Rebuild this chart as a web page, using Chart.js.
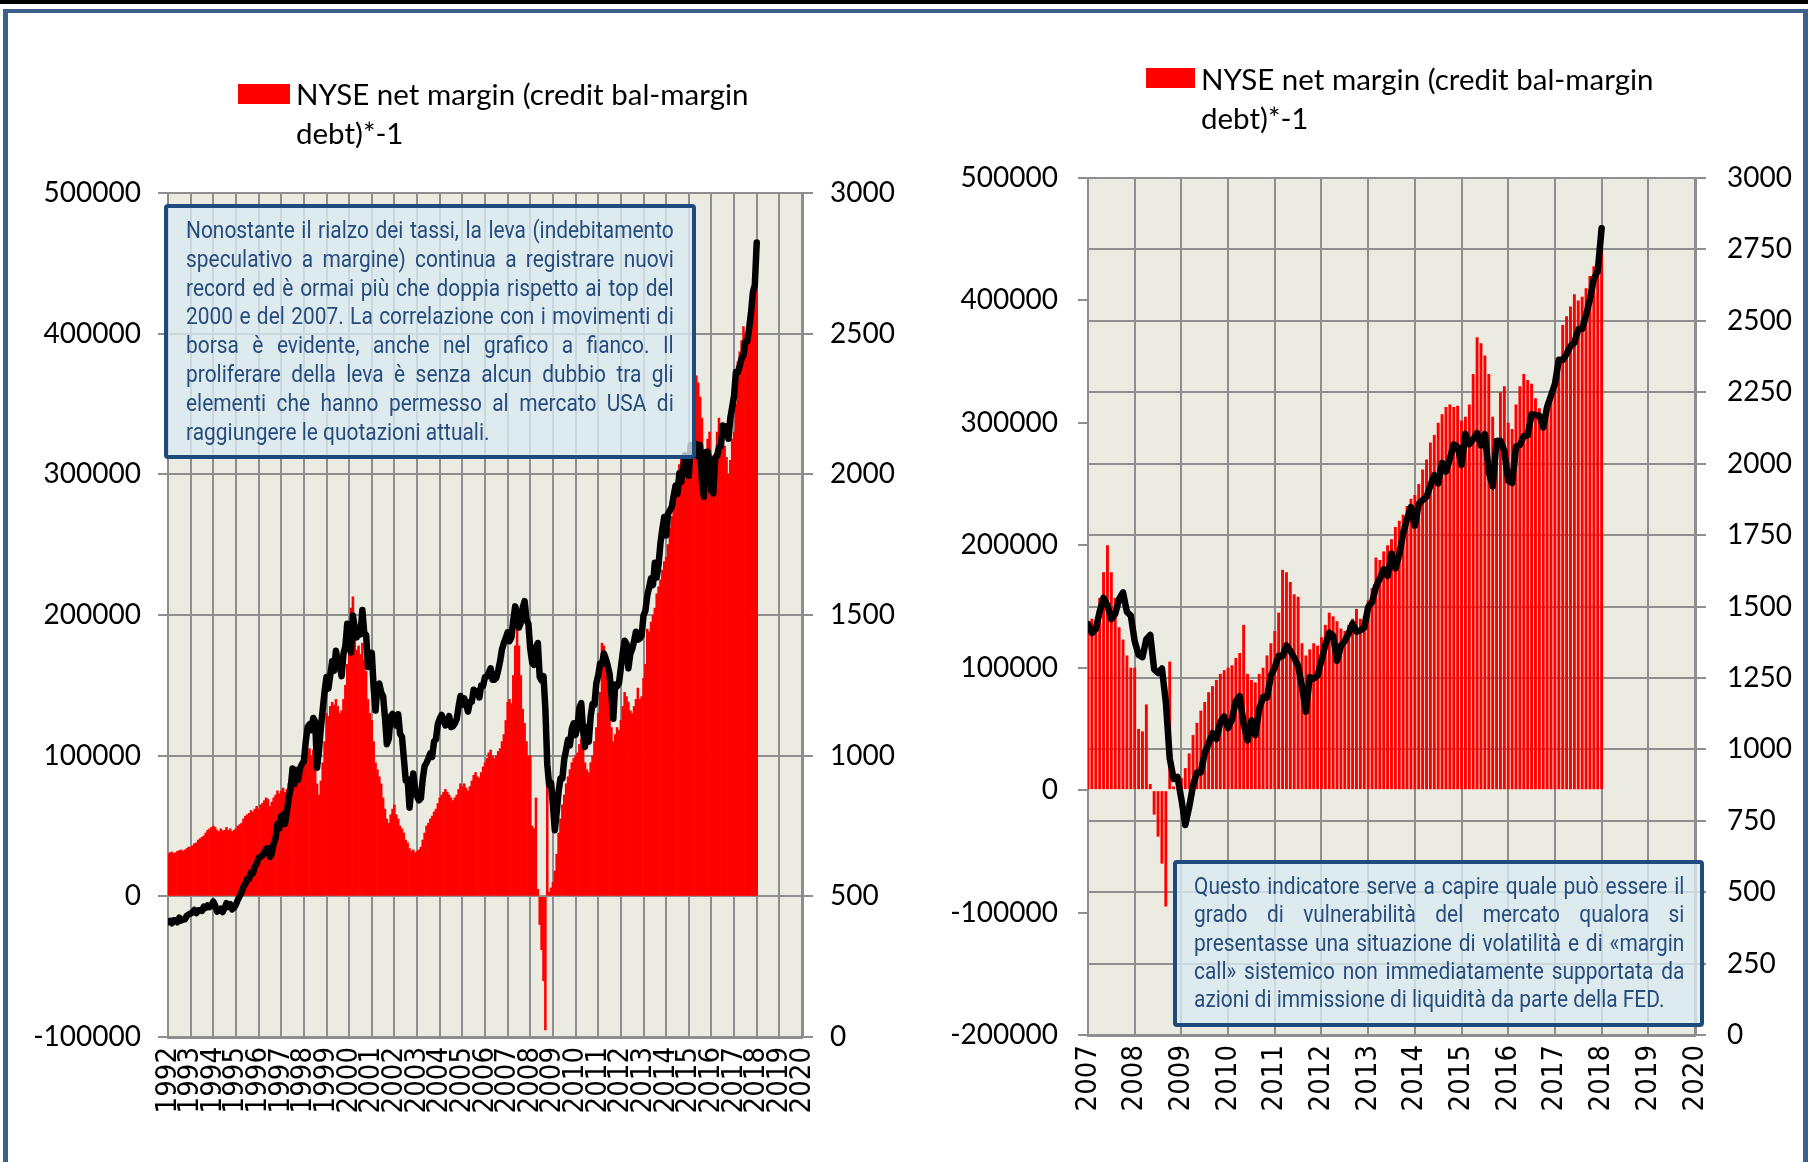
<!DOCTYPE html>
<html>
<head>
<meta charset="utf-8">
<script src="https://cdn.jsdelivr.net/npm/chart.js@4.4.1/dist/chart.umd.min.js"></script>
<style>
  html, body { margin: 0; padding: 0; background: #fff; }
  #page { position: relative; width: 1808px; height: 1162px; overflow: hidden; background: #fff; }
  .topbar { position: absolute; left: 0; top: 0; width: 1808px; height: 4px; background: #000; }
  .frame { position: absolute; left: 3px; top: 9px; width: 1805px; height: 1160px; box-sizing: border-box;
           border: 5px solid #3d5f8d; border-top-width: 4px; border-bottom: none; }
  .box { position: absolute; top: 0; }
  .legend { position: absolute; font-family: Lato, sans-serif; font-size: 29.5px; line-height: 39px; color: #000; white-space: nowrap; }
  .swatch { position: absolute; background: #ff0000; }
  .note { position: absolute; box-sizing: border-box; border: 4px solid #1f4a7d; border-radius: 4px;
          background: rgba(218, 235, 242, 0.8); color: #264b7d; overflow: hidden; }
  .note .txt { font-family: Roboto, sans-serif; font-size: 23.5px; transform: scaleX(0.89); transform-origin: 0 0; }
  .note .txt div { text-align: justify; text-align-last: justify; }
  .note .txt div.last { text-align-last: left; }
</style>
</head>
<body>
<div id="page">
  <div class="topbar"></div>
  <div class="frame"></div>

  <div class="box" style="left:0;width:904px;height:1162px"><canvas id="chartLong" width="904" height="1162"></canvas></div>
  <div class="box" style="left:904px;width:904px;height:1162px"><canvas id="chartShort" width="904" height="1162"></canvas></div>

  <div class="swatch" style="left:238px;top:84px;width:52px;height:20px"></div>
  <div class="legend" style="left:296px;top:74px">NYSE net margin (credit bal-margin<br>debt)*-1</div>

  <div class="swatch" style="left:1146px;top:68px;width:49px;height:20px"></div>
  <div class="legend" style="left:1201px;top:59px">NYSE net margin (credit bal-margin<br>debt)*-1</div>

  <div class="note" style="left:164px;top:204px;width:532px;height:255px;padding:8px 0 0 18px">
    <div class="txt" style="width:548px;line-height:28.8px">
      <div>Nonostante il rialzo dei tassi, la leva (indebitamento</div>
      <div>speculativo a margine) continua a registrare nuovi</div>
      <div>record ed è ormai più che doppia rispetto ai top del</div>
      <div>2000 e del 2007. La correlazione con i movimenti di</div>
      <div>borsa è evidente, anche nel grafico a fianco. Il</div>
      <div>proliferare della leva è senza alcun dubbio tra gli</div>
      <div>elementi che hanno permesso al mercato USA di</div>
      <div class="last">raggiungere le quotazioni attuali.</div>
    </div>
  </div>

  <div class="note" style="left:1173px;top:860px;width:531px;height:167px;padding:8px 0 0 17px">
    <div class="txt" style="width:551px;line-height:28.3px">
      <div>Questo indicatore serve a capire quale può essere il</div>
      <div>grado di vulnerabilità del mercato qualora si</div>
      <div>presentasse una situazione di volatilità e di «margin</div>
      <div>call» sistemico non immediatamente supportata da</div>
      <div class="last">azioni di immissione di liquidità da parte della FED.</div>
    </div>
  </div>
</div>

<script>
// Serie mensili da gennaio 1992
const startYear = 1992;

// NYSE net margin (credit bal - margin debt) * -1
const netMargin = [
  // 1992
  30000, 31000, 31500, 30500, 31000, 32000, 32500, 33000, 32000, 33000, 34000, 35000,
  // 1993
  35000, 36000, 37500, 38000, 40000, 41000, 42000, 43000, 45000, 47000, 48000, 49000,
  // 1994
  50000, 49000, 47000, 46000, 48000, 46500, 47000, 49000, 47000, 48000, 46000, 47000,
  // 1995
  48000, 50000, 51000, 52000, 55000, 57000, 58000, 59000, 61000, 60000, 62000, 64000,
  // 1996
  62000, 65000, 66000, 68000, 70000, 69000, 64000, 67000, 70000, 72000, 75000, 73000,
  // 1997
  75000, 77000, 74000, 76000, 80000, 84000, 90000, 88000, 92000, 88000, 93000, 95000,
  // 1998
  97000, 102000, 103000, 105000, 100000, 104000, 98000, 80000, 72000, 82000, 95000, 110000,
  // 1999
  130000, 128000, 135000, 138000, 136000, 140000, 135000, 130000, 132000, 140000, 150000, 165000,
  // 2000
  180000, 205000, 213000, 190000, 175000, 178000, 172000, 180000, 168000, 160000, 140000, 130000,
  // 2001
  125000, 110000, 95000, 90000, 85000, 80000, 70000, 62000, 55000, 52000, 58000, 62000,
  // 2002
  65000, 58000, 55000, 50000, 48000, 45000, 40000, 38000, 34000, 32000, 33000, 31000,
  // 2003
  32000, 33000, 35000, 40000, 45000, 50000, 52000, 55000, 57000, 60000, 62000, 66000,
  // 2004
  70000, 72000, 74000, 76000, 74000, 72000, 70000, 68000, 70000, 72000, 76000, 80000,
  // 2005
  78000, 80000, 77000, 75000, 78000, 82000, 86000, 88000, 85000, 84000, 88000, 92000,
  // 2006
  95000, 98000, 102000, 104000, 100000, 98000, 100000, 103000, 105000, 110000, 115000, 125000,
  // 2007
  138000, 140000, 137000, 157000, 178000, 200000, 178000, 157000, 133000, 123000, 110000, 100000,
  // 2008
  100000, 50000, 48000, 70000, 5000, -20000, -38000, -60000, -95000, 105000, 3000, 6000,
  // 2009
  10000, 18000, 30000, 45000, 55000, 65000, 72000, 80000, 85000, 90000, 95000, 98000,
  // 2010
  100000, 102000, 108000, 112000, 135000, 95000, 90000, 88000, 95000, 100000, 110000, 120000,
  // 2011
  130000, 145000, 180000, 178000, 170000, 160000, 158000, 120000, 110000, 115000, 120000, 118000,
  // 2012
  125000, 135000, 145000, 142000, 138000, 132000, 130000, 135000, 140000, 148000, 140000, 142000,
  // 2013
  155000, 165000, 190000, 188000, 195000, 200000, 205000, 215000, 220000, 225000, 232000, 238000,
  // 2014
  241000, 250000, 262000, 270000, 284000, 290000, 300000, 307000, 313000, 315000, 313000, 314000,
  // 2015
  302000, 305000, 315000, 340000, 370000, 365000, 355000, 340000, 305000, 285000, 325000, 330000,
  // 2016
  300000, 295000, 315000, 330000, 340000, 335000, 332000, 320000, 312000, 300000, 310000, 325000,
  // 2017
  330000, 350000, 380000, 387000, 395000, 405000, 400000, 403000, 410000, 420000, 428000, 435000,
  // 2018
  444000
];

// S&P 500 (asse destro)
const sp500 = [
  408.8, 412.7, 403.7, 414.9, 415.4, 408.1, 424.2, 414.0, 417.8, 418.7, 431.4, 435.7,
  438.8, 443.4, 451.7, 440.2, 450.2, 450.5, 448.1, 463.6, 458.9, 467.8, 461.8, 466.5,
  481.6, 467.1, 445.8, 450.9, 456.5, 444.3, 458.3, 475.5, 462.7, 472.4, 453.7, 459.3,
  470.4, 487.4, 500.7, 514.7, 533.4, 544.8, 562.1, 561.9, 584.4, 581.5, 605.4, 615.9,
  636.0, 640.4, 645.5, 654.2, 669.1, 670.6, 639.9, 651.9, 687.3, 705.3, 757.0, 740.7,
  786.2, 790.8, 757.1, 801.3, 848.3, 885.1, 954.3, 899.5, 947.3, 914.6, 955.4, 970.4,
  980.3, 1049.3, 1101.8, 1111.8, 1090.8, 1133.8, 1120.7, 957.3, 1017.0, 1098.7, 1163.6, 1229.2,
  1279.6, 1238.3, 1286.4, 1335.2, 1301.8, 1372.7, 1328.7, 1320.4, 1282.7, 1362.9, 1389.0, 1469.3,
  1394.5, 1366.4, 1498.6, 1452.4, 1420.6, 1454.6, 1430.8, 1517.7, 1436.5, 1429.4, 1315.2, 1320.3,
  1366.0, 1239.9, 1160.3, 1249.5, 1255.8, 1224.4, 1211.2, 1133.6, 1040.9, 1059.8, 1139.5, 1148.1,
  1130.2, 1106.7, 1147.4, 1076.9, 1067.1, 989.8, 911.6, 916.1, 815.3, 885.8, 936.3, 879.8,
  855.7, 841.2, 848.2, 916.9, 963.6, 974.5, 990.3, 1008.0, 996.0, 1050.7, 1058.2, 1111.9,
  1131.1, 1144.9, 1126.2, 1107.3, 1120.7, 1140.8, 1101.7, 1104.2, 1114.6, 1130.2, 1173.8, 1211.9,
  1181.3, 1203.6, 1180.6, 1156.9, 1191.5, 1191.3, 1234.2, 1220.3, 1228.8, 1207.0, 1249.5, 1248.3,
  1280.1, 1280.7, 1294.9, 1310.6, 1270.1, 1270.2, 1276.7, 1303.8, 1335.9, 1377.9, 1400.6, 1418.3,
  1438.2, 1406.8, 1420.9, 1482.4, 1530.6, 1503.4, 1455.3, 1474.0, 1526.8, 1549.4, 1481.1, 1468.4,
  1378.6, 1330.6, 1322.7, 1385.6, 1400.4, 1280.0, 1267.4, 1282.8, 1166.4, 968.8, 896.2, 903.3,
  825.9, 735.1, 797.9, 872.8, 919.1, 919.3, 987.5, 1020.6, 1057.1, 1036.2, 1095.6, 1115.1,
  1073.9, 1104.5, 1169.4, 1186.7, 1089.4, 1030.7, 1101.6, 1049.3, 1141.2, 1183.3, 1180.6, 1257.6,
  1286.1, 1327.2, 1325.8, 1363.6, 1345.2, 1320.6, 1292.3, 1218.9, 1131.4, 1253.3, 1247.0, 1257.6,
  1312.4, 1365.7, 1408.5, 1397.9, 1310.3, 1362.2, 1379.3, 1406.6, 1440.7, 1412.2, 1416.2, 1426.2,
  1498.1, 1514.7, 1569.2, 1597.6, 1630.7, 1606.3, 1685.7, 1633.0, 1681.6, 1756.5, 1805.8, 1848.4,
  1782.6, 1859.5, 1872.3, 1883.9, 1923.6, 1960.2, 1930.7, 2003.4, 1972.3, 2018.1, 2067.6, 2058.9,
  1995.0, 2104.5, 2067.9, 2085.5, 2107.4, 2063.1, 2103.8, 1972.2, 1920.0, 2079.4, 2080.4, 2043.9,
  1940.2, 1932.2, 2059.7, 2065.3, 2096.9, 2098.9, 2173.6, 2170.9, 2168.3, 2126.2, 2199.0, 2238.8,
  2278.9, 2363.6, 2362.7, 2384.2, 2411.8, 2423.4, 2470.3, 2471.7, 2519.4, 2575.3, 2647.6, 2673.6,
  2823.8
];

// Etichette degli assi
const yearsLong = [1992, 1993, 1994, 1995, 1996, 1997, 1998, 1999, 2000, 2001, 2002, 2003, 2004, 2005,
  2006, 2007, 2008, 2009, 2010, 2011, 2012, 2013, 2014, 2015, 2016, 2017, 2018, 2019, 2020];
const yearsShort = [2007, 2008, 2009, 2010, 2011, 2012, 2013, 2014, 2015, 2016, 2017, 2018, 2019, 2020];
const marginTicksLong = [-100000, 0, 100000, 200000, 300000, 400000, 500000];
const marginTicksShort = [-200000, -100000, 0, 100000, 200000, 300000, 400000, 500000];
const spxTicksLong = [0, 500, 1000, 1500, 2000, 2500, 3000];
const spxTicksShort = [0, 250, 500, 750, 1000, 1250, 1500, 1750, 2000, 2250, 2500, 2750, 3000];

const GRID = "#8e8e8e";

// sfondo dell'area del grafico
const plotBg = {
  id: "plotBg",
  beforeDraw(chart) {
    const { ctx, chartArea: a } = chart;
    ctx.save();
    ctx.fillStyle = "#ecebe1";
    ctx.fillRect(a.left, a.top, a.right - a.left, a.bottom - a.top);
    ctx.restore();
  }
};

function toPoints(values, fromYear) {
  const pts = [];
  values.forEach((v, i) => {
    const x = startYear + i / 12;
    if (x >= fromYear - 1e-9) pts.push({ x: x, y: v });
  });
  return pts;
}

function setTicks(list) {
  return scale => { scale.ticks = list.map(v => ({ value: v })); };
}

function buildChart(id, opt) {
  return new Chart(document.getElementById(id).getContext("2d"), {
    type: "bar",
    data: {
      datasets: [
        {
          type: "line",
          label: "S&P 500",
          data: toPoints(sp500, opt.years[0]),
          yAxisID: "y1",
          borderColor: "#000",
          borderWidth: 6.5,
          borderCapStyle: "round",
          borderJoinStyle: "round",
          pointRadius: 0,
          tension: 0,
          order: 0
        },
        {
          label: "NYSE net margin (credit bal-margin debt)*-1",
          data: toPoints(netMargin, opt.years[0]),
          yAxisID: "y",
          backgroundColor: "#ff0000",
          borderWidth: 0,
          barPercentage: opt.barPct,
          categoryPercentage: 1,
          order: 1
        }
      ]
    },
    options: {
      responsive: false,
      animation: false,
      layout: { padding: { top: opt.top, left: 0, right: 0, bottom: 0 } },
      plugins: { legend: { display: false }, tooltip: { enabled: false } },
      scales: {
        x: {
          type: "linear",
          min: opt.years[0],
          max: opt.years[opt.years.length - 1],
          offset: false,
          afterBuildTicks: setTicks(opt.years),
          afterFit: s => { s.height = opt.xHeight; },
          ticks: {
            autoSkip: false, minRotation: 90, maxRotation: 90, padding: 10,
            color: "#000",
            font: { family: "'DejaVu Sans Condensed', 'DejaVu Sans'", size: 29 },
            callback: v => String(v)
          },
          grid: { color: GRID, lineWidth: 2, drawTicks: false, offset: false },
          border: { color: GRID, width: 3 }
        },
        y: {
          position: "left",
          min: opt.marginTicks[0],
          max: opt.marginTicks[opt.marginTicks.length - 1],
          afterBuildTicks: setTicks(opt.marginTicks),
          afterFit: s => { s.width = opt.leftW; },
          ticks: { color: "#000", padding: opt.leftPad, font: { family: "Lato", size: 28 }, callback: v => String(v) },
          grid: { color: GRID, lineWidth: 2, tickLength: 10, drawOnChartArea: opt.leftGrid },
          border: { color: GRID, width: 2 }
        },
        y1: {
          position: "right",
          min: 0,
          max: 3000,
          afterBuildTicks: setTicks(opt.spxTicks),
          afterFit: s => { s.width = opt.rightW; },
          ticks: { color: "#000", padding: opt.rightPad, font: { family: "Lato", size: 28 }, callback: v => String(v) },
          grid: { color: GRID, lineWidth: 2, tickLength: 11, drawOnChartArea: !opt.leftGrid },
          border: { color: GRID, width: 3 }
        }
      }
    },
    plugins: [plotBg]
  });
}

buildChart("chartLong", {
  years: yearsLong, marginTicks: marginTicksLong, spxTicks: spxTicksLong,
  top: 193, xHeight: 125, leftW: 168, rightW: 102, leftPad: 17, rightPad: 17,
  leftGrid: true, barPct: 1
});

buildChart("chartShort", {
  years: yearsShort, marginTicks: marginTicksShort, spxTicks: spxTicksShort,
  top: 178, xHeight: 127, leftW: 184, rightW: 113, leftPad: 20, rightPad: 21,
  leftGrid: false, barPct: 0.75
});
</script>
</body>
</html>
